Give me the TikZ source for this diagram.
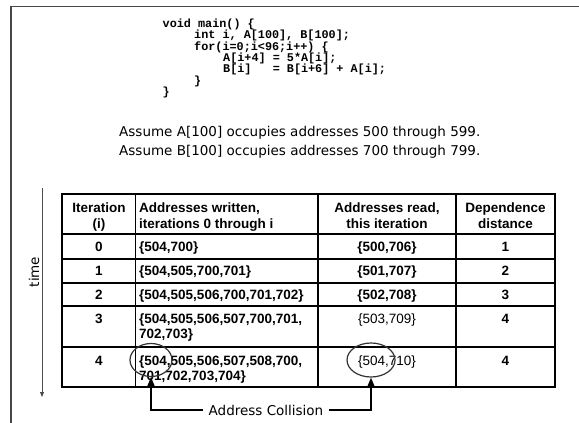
\documentclass[tikz,border=0pt]{standalone}
\usepackage{fontspec}
\setmainfont{Liberation Sans}
\newfontfamily\codefont{Liberation Mono}
\newfontfamily\notefont{DejaVu Sans}
\usetikzlibrary{arrows.meta,shapes.geometric}

\begin{document}
\begin{tikzpicture}[x=1pt,y=-1pt,
  frameline/.style={draw=black!72, line width=1.6pt},
  codeline/.style={anchor=base west, inner sep=0pt,
    font=\codefont\bfseries\fontsize{11.8}{12}\selectfont},
  note/.style={anchor=base west, inner sep=0pt,
    font=\notefont\fontsize{13.5}{16}\selectfont},
  cellc/.style={anchor=base, inner sep=0pt,
    font=\bfseries\fontsize{13.5}{16}\selectfont},
  celll/.style={cellc, anchor=base west},
  cellp/.style={anchor=base, inner sep=0pt,
    font=\fontsize{13.5}{16}\selectfont},
  outerrule/.style={line width=2.2pt, draw=black},
  innerrule/.style={line width=1.4pt, draw=black},
  timeline/.style={draw=black!70, line width=0.9pt,
    -{Triangle[length=5pt,width=4pt]}},
  ring/.style={ellipse, draw=black!80, line width=1.2pt, inner sep=0pt},
  collide/.style={draw=black, line width=1.5pt,
    -{Triangle[length=9pt,width=7pt]}}
]
\useasboundingbox (0,0) rectangle (579,423);

% outer frame (top and left edges)
\draw[frameline] (11,423) -- (11,6.5) -- (579,6.5);

% source code
\node[codeline] (c1) at (162.5,27.5) {void main() \{};
\node[codeline] (c2) at (194,38.8)  {int i, A[100], B[100];};
\node[codeline] (c3) at (194,50.2)  {for(i=0;i<96;i++) \{};
\node[codeline] (c4) at (223,61.5)  {A[i+4] = 5*A[i];};
\node[codeline] (c5) at (223,72.8)  {B[i]~~~= B[i+6] + A[i];};
\node[codeline] (c6) at (194,84.2)  {\}};
\node[codeline] (c7) at (162.5,95.5) {\}};

% assumptions
\node[note] (n1) at (119,136) {Assume A[100] occupies addresses 500 through 599.};
\node[note] (n2) at (119,155) {Assume B[100] occupies addresses 700 through 799.};

% time axis
\coordinate (t0) at (42,188);
\coordinate (t1) at (42,397);
\draw[timeline] (t0) -- (t1);
\node[note, anchor=center, rotate=90] (tm) at (34,272) {time};

% table grid
\draw[innerrule] (135.7,194) -- (135.7,387);
\draw[innerrule] (318,194) -- (318,387);
\draw[innerrule] (456,194) -- (456,387);
\foreach \yy in {234,259,283,306,347}
  \draw[innerrule] (62,\yy) -- (555,\yy);
\draw[outerrule] (62,194) rectangle (555,387);

% header
\node[cellc] (h1a) at (99,212)   {Iteration};
\node[cellc] (h1b) at (99,228)   {(i)};
\node[celll] (h2a) at (139,212)  {Addresses written,};
\node[celll] (h2b) at (139,228)  {iterations 0 through i};
\node[cellc] (h3a) at (387,212)  {Addresses read,};
\node[cellc] (h3b) at (387,228)  {this iteration};
\node[cellc] (h4a) at (505.5,212) {Dependence};
\node[cellc] (h4b) at (505.5,228) {distance};

% row 0
\node[cellc] (r0a) at (99,251.5)    {0};
\node[celll] (r0b) at (139,251.5)   {\{504,700\}};
\node[cellc] (r0c) at (387,251.5)   {\{500,706\}};
\node[cellc] (r0d) at (505.5,251.5) {1};
% row 1
\node[cellc] (r1a) at (99,275.5)    {1};
\node[celll] (r1b) at (139,275.5)   {\{504,505,700,701\}};
\node[cellc] (r1c) at (387,275.5)   {\{501,707\}};
\node[cellc] (r1d) at (505.5,275.5) {2};
% row 2
\node[cellc] (r2a) at (99,299)    {2};
\node[celll] (r2b) at (139,299)   {\{504,505,506,700,701,702\}};
\node[cellc] (r2c) at (387,299)   {\{502,708\}};
\node[cellc] (r2d) at (505.5,299) {3};
% row 3
\node[cellc] (r3a) at (99,323)    {3};
\node[celll] (r3b) at (139,323)   {\{504,505,506,507,700,701,};
\node[celll] (r3e) at (139,338)   {702,703\}};
\node[cellp] (r3c) at (387,323)   {\{503,709\}};
\node[cellc] (r3d) at (505.5,323) {4};
% row 4
\node[cellc] (r4a) at (99,365)    {4};
\node[celll] (r4b) at (139,365)   {\{504,505,506,507,508,700,};
\node[celll] (r4e) at (139,380)   {701,702,703,704\}};
\node[cellp] (r4c) at (387,365)   {\{504,710\}};
\node[cellc] (r4d) at (505.5,365) {4};

% collision markers
\node[ring, minimum width=42pt, minimum height=33pt] (e1) at (151,360) {};
\node[ring, minimum width=48pt, minimum height=34pt] (e2) at (371,360) {};
\node[note, anchor=center, inner xsep=6pt] (coll) at (266,410) {Address Collision};
\draw[collide] (coll.west) -| (e1.south);
\draw[collide] (coll.east) -| (e2.south);
\end{tikzpicture}
\end{document}
